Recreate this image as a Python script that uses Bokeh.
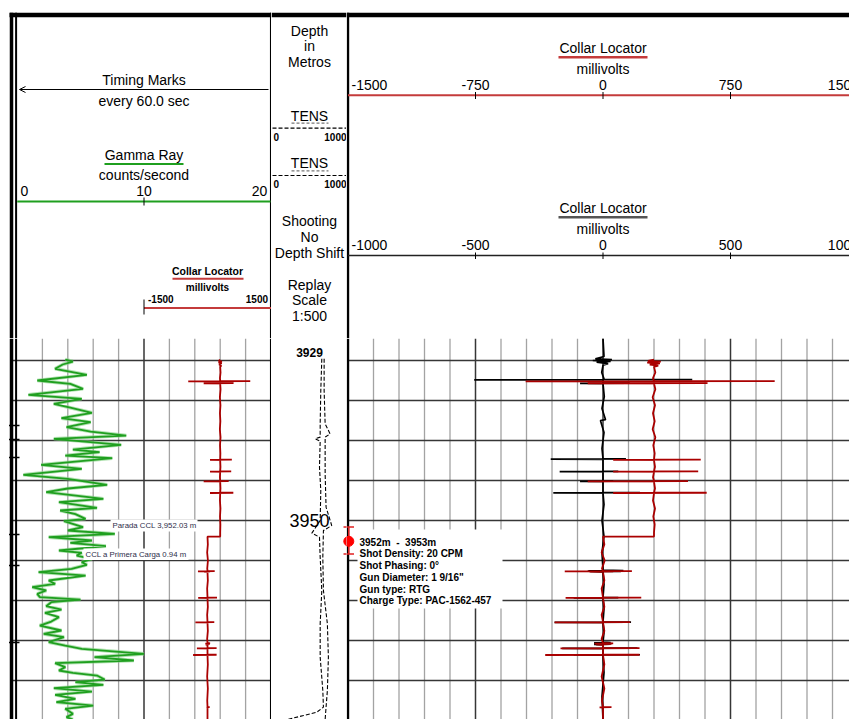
from bokeh.plotting import figure
from bokeh.layouts import row, column
from bokeh.models import Range1d, Arrow, OpenHead
from bokeh.embed import file_html
from bokeh.resources import INLINE
from bokeh.core.properties import value

FONT = "Liberation Sans"

gr_depth = [3929.88, 3930.13, 3930.5, 3931.04, 3931.79, 3932.5, 3932.92, 3933.54, 3934.29, 3934.79,
            3935.42, 3935.9, 3936.54, 3937.21, 3937.71, 3938.33, 3938.88, 3939.38, 3939.79, 3940.54,
            3941.13, 3941.46, 3941.88, 3942.21, 3943.04, 3943.54, 3944.29, 3944.79, 3945.54, 3946.0,
            3946.46, 3947.29, 3947.71, 3948.42, 3948.75, 3949.2, 3949.79, 3950.08, 3950.83, 3951.25,
            3951.67, 3952.08, 3952.5, 3952.79, 3953.2, 3953.75, 3954.04, 3954.38, 3954.79, 3955.21,
            3955.54, 3956.04, 3956.46, 3956.88, 3957.5, 3957.92, 3958.33, 3958.75, 3959.17, 3959.58,
            3959.88, 3960.21, 3960.71, 3961.13, 3961.54, 3962.08, 3962.63, 3963.13, 3963.75, 3964.17,
            3964.58, 3965.21, 3965.63, 3966.04, 3966.67, 3967.08, 3967.5, 3967.83, 3968.33, 3968.75,
            3969.04, 3969.38, 3969.88, 3970.21, 3970.54, 3970.96, 3971.38, 3971.79, 3972.29, 3972.71,
            3973.13, 3973.54, 3974.17, 3974.58, 3974.88]
gr_cps = [3.8, 4.4, 3.6, 3.0, 5.5, 1.6, 4.2, 5.2, 0.9, 5.1,
          2.9, 4.2, 5.9, 3.5, 5.8, 3.9, 5.8, 8.6, 2.9, 8.2,
          4.4, 6.5, 3.8, 7.5, 1.9, 5.1, 0.5, 4.0, 7.1, 4.0,
          2.3, 6.8, 3.3, 6.3, 3.4, 4.6, 5.4, 3.7, 5.2, 4.0,
          7.7, 2.5, 5.9, 4.2, 7.0, 3.3, 5.1, 4.7, 5.9, 5.1,
          5.5, 4.3, 1.7, 5.4, 2.5, 3.0, 1.2, 2.3, 1.6, 1.8,
          5.0, 2.7, 2.3, 3.5, 2.2, 3.3, 2.7, 1.8, 3.5, 2.1,
          3.7, 2.5, 3.8, 5.1, 10.0, 6.1, 9.2, 3.0, 3.8, 3.3,
          4.4, 6.3, 6.9, 4.6, 6.8, 2.9, 5.9, 3.0, 4.6, 3.1,
          6.0, 3.8, 4.4, 3.9, 4.4]

ccl_red_depth = [3929.9, 3930.05, 3930.15, 3930.25, 3930.35, 3930.5, 3930.65, 3930.8, 3931.5, 3932.2,
                 3932.55, 3932.58, 3932.61, 3932.64, 3932.81, 3932.85, 3932.88, 3933.6, 3934.6, 3935.6,
                 3936.6, 3937.6, 3938.6, 3939.6, 3940.6, 3941.6, 3942.38, 3942.40, 3942.43, 3942.46,
                 3943.3, 3943.85, 3943.87, 3943.90, 3943.93, 3944.6, 3945.06, 3945.08, 3945.11, 3945.14,
                 3946.0, 3946.51, 3946.53, 3946.56, 3946.59, 3947.5, 3948.5, 3949.5, 3950.5, 3951.5,
                 3952.0, 3952.02, 3953.0, 3954.0, 3955.0, 3956.0, 3956.3, 3956.32, 3956.35, 3956.38,
                 3956.41, 3956.45, 3957.5, 3958.5, 3959.63, 3959.65, 3959.68, 3959.71, 3960.8, 3961.8,
                 3962.68, 3962.70, 3962.73, 3962.76, 3963.8, 3964.8, 3965.3, 3965.35, 3965.4, 3965.45,
                 3965.5, 3965.55, 3965.93, 3965.95, 3965.98, 3966.01, 3966.76, 3966.78, 3966.81, 3966.84,
                 3968.0, 3969.5, 3971.0, 3972.5, 3973.3, 3973.33, 3973.36, 3973.39, 3974.875]
ccl_red_mv = [300, 265, 340, 260, 335, 275, 325, 300, 308, 294,
              300, 1010, -455, 300, 615, -90, 300, 308, 292, 306,
              294, 304, 292, 308, 296, 304, 300, 575, 60, 300,
              306, 300, 560, 60, 300, 294, 300, 500, -90, 300,
              306, 300, 610, 60, 300, 294, 306, 296, 304, 300,
              300, 0, 8, -8, 10, -6, 0, 170, -225, 60,
              -80, 0, 8, -8, 0, 225, -220, 0, 8, -8,
              0, 160, -285, 0, 8, -8, 0, 60, -50, 50,
              -40, 0, 0, 215, -250, 0, 0, 215, -340, 0,
              8, -8, 8, -6, 0, 50, -20, 0, 0]

ccl_blk_depth = [3927.25, 3929.5, 3929.8, 3929.9, 3930.0, 3930.1, 3930.2, 3930.4, 3930.6, 3931.5,
                 3932.3, 3932.36, 3932.38, 3932.41, 3932.44, 3932.82, 3932.84, 3932.87, 3932.90, 3934.5,
                 3936.0, 3937.4, 3937.5, 3939.0, 3941.0, 3942.28, 3942.30, 3942.33, 3942.36, 3943.85,
                 3943.87, 3943.90, 3943.93, 3945.06, 3945.08, 3945.11, 3945.14, 3946.49, 3946.51, 3946.54,
                 3946.57, 3948.0, 3950.0, 3952.0, 3954.0, 3956.2, 3956.25, 3956.28, 3956.31, 3956.34,
                 3956.37, 3956.40, 3956.45, 3958.0, 3959.63, 3959.65, 3959.68, 3959.71, 3961.0, 3962.68,
                 3962.70, 3962.73, 3962.76, 3964.0, 3965.2, 3965.25, 3965.3, 3965.35, 3965.4, 3965.45,
                 3965.5, 3965.55, 3965.93, 3965.95, 3965.98, 3966.01, 3966.76, 3966.78, 3966.81, 3966.84,
                 3969.0, 3972.0, 3974.875]
ccl_blk_mv = [0, 4, -30, 35, -40, 30, -25, 20, 0, -5,
              4, 0, 350, -505, 0, 0, 105, -90, 0, 5,
              -4, 10, -10, 4, -4, 0, 90, -205, 0, 0,
              60, -170, 0, 0, 40, -90, 0, 0, 145, -195,
              0, 4, -4, 4, -4, 0, 80, -55, 75, -60,
              70, -50, 0, 4, 0, 60, -115, 0, 4, 0,
              110, -190, 0, 4, 0, 30, -35, 30, -35, 30,
              -35, 0, 0, 135, -160, 0, 0, 145, -115, 0,
              4, -4, 0]

tens1_depth = [3929.79, 3933.75, 3937.92, 3939.58, 3939.79, 3940.08, 3943.33, 3946.25, 3950.0, 3951.58,
               3952.08, 3954.58, 3958.75, 3962.92, 3967.08, 3971.25, 3973.33, 3973.96, 3974.38, 3974.88]
tens1_val = [662, 649, 641, 641, 577, 641, 632, 649, 641, 534,
             632, 641, 662, 641, 641, 675, 683, 598, 427, 214]
tens2_depth = [3929.79, 3933.75, 3937.92, 3939.17, 3939.58, 3944.17, 3948.33, 3950.63, 3951.25, 3954.58,
               3958.75, 3962.92, 3967.08, 3971.25, 3973.33, 3974.88]
tens2_val = [692, 692, 705, 769, 705, 705, 717, 790, 683, 675,
             683, 734, 747, 734, 717, 705]

timing_mark_depth = [3938.125, 3939.875, 3942.125, 3951.75, 3955.625, 3965.25]
depth_grid = [3930, 3935, 3940, 3945, 3950, 3955, 3960, 3965, 3970]
depth_labels = [3929, 3950]

gr_ticks = [0, 10, 20]
gr_grid_minor = [2, 4, 6, 8, 12, 14, 16, 18]
gr_grid_major = [10]
ccl_left_ticks = [-1500, 1500]
ccl_r_ticks = [-1500, -750, 0, 750, 1500]
ccl_b_ticks = [-1000, -500, 0, 500, 1000]
ccl_grid_major = [-750, 0, 750]
ccl_grid_minor = [-1350, -1200, -1050, -900, -600, -450, -300, -150,
                  150, 300, 450, 600, 900, 1050, 1200, 1350]
tens_ticks = [0, 1000]

perf_top, perf_bottom = 3952, 3953
perf_info = ["3952m\u00a0\u00a0-\u00a0\u00a03953m", "Shot Density: 20 CPM", "Shot Phasing: 0\u00b0",
             "Gun Diameter: 1 9/16\"", "Gun type: RTG", "Charge Type: PAC-1562-457"]
note_stop = "Parada CCL 3,952.03 m"
note_first = "CCL a Primera Carga 0.94 m"

# ---------------- page geometry (page pixels; the page has no body margin) ----------------
Y0, YH, YB = 0, 338, 719


def depth_at(py):
    return 3950 + (py - 520) / 8.0


D_TOP, D_BOT = depth_at(YH), depth_at(YB)


def gx(px):
    return (px - 16.5) * 20 / 254.0


def lcx(px):
    return -1500 + (gx(px) - 10) * 300


def tx(px):
    return (px - 270) * 1000 / 77.5


def rx(px):
    return (px - 602.5) / 0.17


def rbx(px):
    return rx(px) * 2 / 3


LW, MW, RW = 271, 75, 503      # page x: 0..271, 271..346, 346..849
xr_l = Range1d(gx(0), gx(271))
xr_lc = Range1d(lcx(0), lcx(271))
xr_m = Range1d(tx(271), tx(346))
xr_r = Range1d(rx(346), rx(849))
xr_rb = Range1d(rbx(346), rbx(849))

GREEN = "#1f9f1f"
RED = "#aa0000"
HRED = "#c43b3b"
LIGHT = "#a3a3a3"
DARK = "#363636"


def mk(w, h, xr, yr, extra=None):
    p = figure(width=w, height=h, x_range=xr, y_range=yr, toolbar_location=None,
               output_backend="svg", min_border=0, x_axis_location=None,
               y_axis_location=None, outline_line_color=None)
    p.grid.visible = False
    p.background_fill_color = "white"
    p.border_fill_color = "white"
    if extra:
        p.extra_x_ranges = extra
    return p


def L(v):
    return v if isinstance(v, (list, tuple)) else [v]


def S(p, x0, y0, x1, y1, color="black", w=1.0, dash="solid", rn="default"):
    x0, y0, x1, y1 = L(x0), L(y0), L(x1), L(y1)
    n = max(len(x0), len(y0), len(x1), len(y1))
    x0, y0, x1, y1 = [a * n if len(a) == 1 else a for a in (x0, y0, x1, y1)]
    p.segment(x0=x0, y0=y0, x1=x1, y1=y1, line_color=color, line_width=w,
              line_dash=dash, x_range_name=rn)


def T(p, x, y, s, size=14, align="center", bold=False, color="black", xo=0, rn="default"):
    p.text(x=[x], y=[y], text=[s], x_range_name=rn, text_font=value(FONT),
           text_font_size=f"{size}px", text_font_style="bold" if bold else "normal",
           text_align=align, text_baseline="middle", text_color=color, x_offset=xo)


def scale_labels(p, ticks, y, size=14, bold=False, rn="default", lo=3.5, ro=-3.5):
    for i, t in enumerate(ticks):
        if i == 0:
            T(p, t, y, str(t), size, "left", bold, xo=lo, rn=rn)
        elif i == len(ticks) - 1:
            T(p, t, y, str(t), size, "right", bold, xo=ro, rn=rn)
        else:
            T(p, t, y, str(t), size, "center", bold, rn=rn)


# ================= header: left track =================
yr_h = Range1d(YH, Y0)
hl = mk(LW, YH - Y0, xr_l, yr_h, {"ccl": xr_lc})
S(hl, gx(9), 14.5, gx(271), 14.5, w=4.5)
S(hl, gx(11), 12.3, gx(11), YH, w=3.5)
S(hl, gx(15.6), 12.3, gx(15.6), YH, w=2)
S(hl, gx(270.2), 12.3, gx(270.2), YH, w=1.5)
T(hl, 10, 79, "Timing Marks")
hl.add_layout(Arrow(end=OpenHead(size=6, line_width=1), x_start=gx(268), y_start=89,
                    x_end=gx(19), y_end=89, line_width=1, line_color="black"))
T(hl, 10, 100, "every 60.0 sec")
T(hl, 10, 154, "Gamma Ray")
S(hl, gx(104), 163.5, gx(183), 163.5, GREEN, 2)
T(hl, 10, 174, "counts/second")
scale_labels(hl, gr_ticks, 190, lo=3.5, ro=-3.8)
S(hl, gx(16.7), 201, gx(270), 201, GREEN, 2)
for t in gr_ticks[1:-1]:
    S(hl, t, 197, t, 205, "black", 1)
T(hl, 0, 270, "Collar Locator", 10.5, bold=True, rn="ccl")
S(hl, lcx(172), 278.3, lcx(243), 278.3, HRED, 2, rn="ccl")
T(hl, 0, 287, "millivolts", 10, bold=True, rn="ccl")
scale_labels(hl, ccl_left_ticks, 298, 10, True, rn="ccl", lo=4, ro=-3)
S(hl, ccl_left_ticks[0], 307.5, ccl_left_ticks[-1], 307.5, HRED, 2.2, rn="ccl")
S(hl, ccl_left_ticks[0], 299, ccl_left_ticks[0], 314, "black", 1, rn="ccl")

# ================= header: depth track =================
hm = mk(MW, YH - Y0, xr_m, yr_h)
S(hm, tx(271), 14.5, tx(346), 14.5, w=4.5)
cx = tx(309)
for s, y in [("Depth", 30), ("in", 45), ("Metros", 61.5)]:
    T(hm, cx, y, s)
for yt, yu, yd, yl in [(115, 122.7, 127.7, 136), (162, 170.3, 175, 183)]:
    T(hm, cx, yt, "TENS")
    S(hm, tx(291), yu, tx(328), yu, "#777777", 1.2, "3 2")
    S(hm, tx(272), yd, tx(346), yd, "black", 1.2, "4 2")
    scale_labels(hm, tens_ticks, yl, 10, True, lo=3, ro=-1.5)
for s, y in [("Shooting", 220.7), ("No", 236.7), ("Depth Shift", 252.3),
             ("Replay", 284.3), ("Scale", 299.3), ("1:500", 315)]:
    T(hm, cx, y, s)

# ================= header: collar locator track =================
hr = mk(RW, YH - Y0, xr_r, yr_h, {"b": xr_rb})
S(hr, rx(346), 14.5, rx(849), 14.5, w=4.5)
S(hr, rx(347.5), 12.3, rx(347.5), YH, w=2.4)
T(hr, 0, 47, "Collar Locator")
S(hr, rx(558), 56.7, rx(647), 56.7, HRED, 2.5)
T(hr, 0, 68.3, "millivolts")
scale_labels(hr, ccl_r_ticks, 84, lo=3.5, ro=1)
S(hr, rx(347.5), 94.7, ccl_r_ticks[-1], 94.7, HRED, 2)
for t in ccl_r_ticks[1:-1]:
    S(hr, t, 91.5, t, 98.5, "black", 1)
T(hr, 0, 207.3, "Collar Locator")
S(hr, rx(558), 216.7, rx(647), 216.7, "#555555", 2.5)
T(hr, 0, 228.3, "millivolts")
scale_labels(hr, ccl_b_ticks, 244, rn="b", lo=3.5, ro=1)
S(hr, rbx(347.5), 255, ccl_b_ticks[-1], 255, "#222222", 1.5, rn="b")
for t in ccl_b_ticks[1:-1]:
    S(hr, t, 252, t, 258.5, "black", 1, rn="b")

# ================= data: left track =================
yr_d = Range1d(D_BOT, D_TOP)
dl = mk(LW, YB - YH, xr_l, yr_d, {"ccl": xr_lc})
S(dl, gr_grid_minor, D_TOP, gr_grid_minor, D_BOT, LIGHT, 1.3)
S(dl, gr_grid_major, D_TOP, gr_grid_major, D_BOT, DARK, 1.5)
S(dl, gx(12), depth_grid, gx(271), depth_grid, DARK, 1.7)
S(dl, gx(11), D_TOP, gx(11), D_BOT, w=3.5)
S(dl, gx(15.6), D_TOP, gx(15.6), D_BOT, w=2)
S(dl, gx(270.2), D_TOP, gx(270.2), D_BOT, w=1.5)
S(dl, gx(8.5), timing_mark_depth, gx(19), timing_mark_depth, "black", 1.5)
dl.line(gr_cps, gr_depth, line_color="#7fcf7f", line_width=3.6, line_alpha=0.6)
dl.line(gr_cps, gr_depth, line_color=GREEN, line_width=1.8)
dl.line(ccl_red_mv, ccl_red_depth, line_color=RED, line_width=1.8, x_range_name="ccl")
dl.quad(left=[gx(110)], right=[gx(197)], top=[depth_at(519)], bottom=[depth_at(531)],
        fill_color="white", line_color=None)
dl.quad(left=[gx(83)], right=[gx(188)], top=[depth_at(548)], bottom=[depth_at(559.5)],
        fill_color="white", line_color=None)
T(dl, gx(112), depth_at(525), note_stop, 7.8, "left", color="#2e2e4a")
T(dl, gx(85), depth_at(554), note_first, 7.8, "left", color="#2e2e4a")

# ================= data: depth track =================
dm = mk(MW, YB - YH, xr_m, yr_d)
dm.line(tens1_val, tens1_depth, line_color="black", line_width=1.1, line_dash="4 2")
dm.line(tens2_val, tens2_depth, line_color="black", line_width=1.1, line_dash="4 2")
T(dm, cx, depth_labels[0], str(depth_labels[0]), 12, bold=True)
T(dm, cx, depth_labels[1], str(depth_labels[1]), 18)

# ================= data: collar locator track =================
dr = mk(RW, YB - YH, xr_r, yr_d, {"b": xr_rb})
S(dr, ccl_grid_minor, D_TOP, ccl_grid_minor, D_BOT, LIGHT, 1.3)
S(dr, ccl_grid_major, D_TOP, ccl_grid_major, D_BOT, DARK, 1.5)
S(dr, rx(347.5), depth_grid, rx(849), depth_grid, DARK, 1.7)
S(dr, rx(347.5), D_TOP, rx(347.5), D_BOT, w=2.4)
dr.line(ccl_blk_mv, ccl_blk_depth, line_color="black", line_width=1.7, x_range_name="b")
dr.line(ccl_red_mv, ccl_red_depth, line_color=RED, line_width=1.8)
dr.quad(left=[rx(357)], right=[rx(502)], top=[depth_at(529)], bottom=[depth_at(608)],
        fill_color="white", line_color=None)
for i, s in enumerate(perf_info):
    T(dr, rx(359), depth_at(541.7 + 11.7 * i), s, 10, "left", bold=True)

# perforation marker straddling the depth / CCL track border
pm = (perf_top + perf_bottom) / 2.0
for p, f in [(dm, tx), (dr, rx)]:
    S(p, f(348.3), pm - 1.7, f(348.3), pm + 1.7, "#e02020", 1.5)
    S(p, f(343), pm - 1.7, f(353.5), pm - 1.7, "#e02020", 1.5)
    S(p, f(343), pm + 1.7, f(353.5), pm + 1.7, "#e02020", 1.5)
    p.scatter([f(348.3)], [pm + 0.1], size=10, fill_color="#ff0000", line_color="#ff0000")

layout = column(row(hl, hm, hr), row(dl, dm, dr))
open("out.html", "w").write(file_html(layout, INLINE))
